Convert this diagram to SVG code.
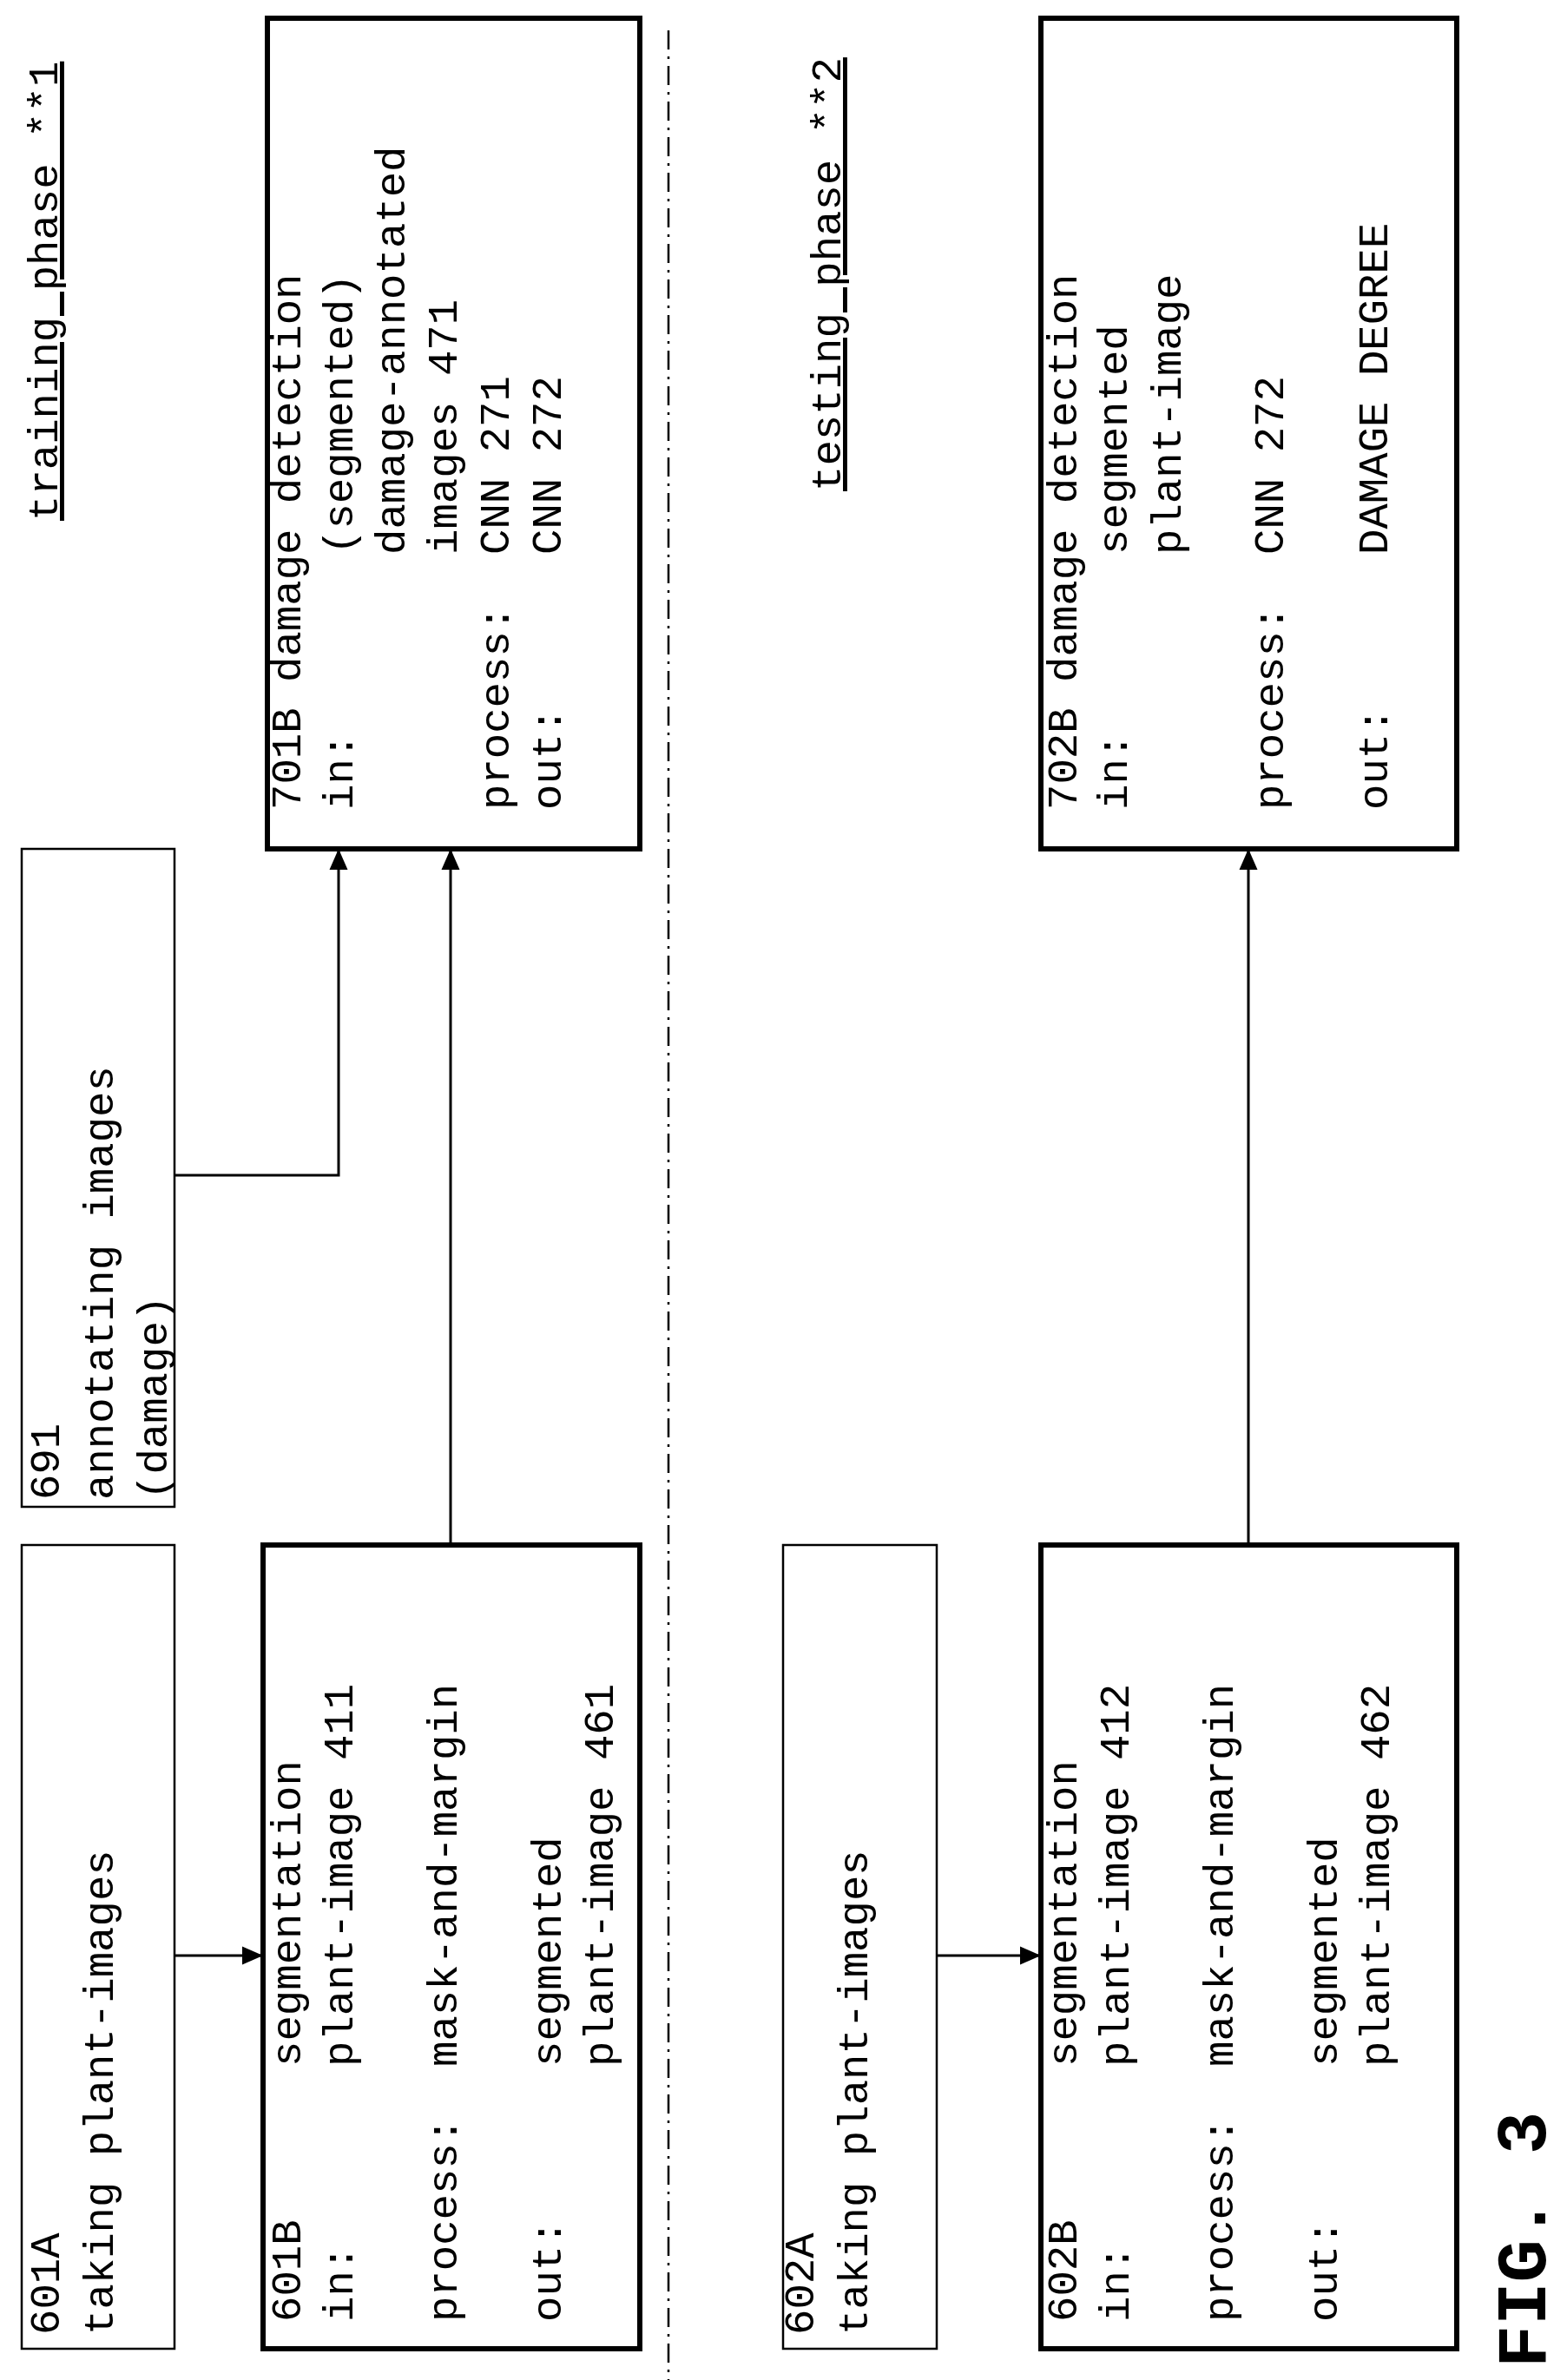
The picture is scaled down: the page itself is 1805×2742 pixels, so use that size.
<svg xmlns="http://www.w3.org/2000/svg" width="1805" height="2742" viewBox="0 0 1805 2742">
<style>
text{font-family:"Liberation Mono","Courier New",monospace;font-size:49px;fill:#000;white-space:pre}
.thin{fill:#fff;stroke:#000;stroke-width:2.5}
.thick{fill:#fff;stroke:#000;stroke-width:6}
.c{fill:none;stroke:#000;stroke-width:3}
.fig{font-weight:bold;font-size:82px}
</style>
<defs><marker id="a" markerWidth="8" markerHeight="8" refX="7" refY="4" orient="auto" markerUnits="strokeWidth"><path d="M0,0.5 L8,4 L0,7.5 z" fill="#000"/></marker></defs>
<rect width="1805" height="2742" fill="#fff"/>
<line x1="770" y1="35" x2="770" y2="2742" stroke="#000" stroke-width="2.5" stroke-dasharray="22,8,3,8"/>
<text transform="translate(66,600) rotate(-90)" text-decoration="underline">training phase **1</text>
<text transform="translate(968,566) rotate(-90)" text-decoration="underline">testing phase **2</text>
<g id="n601A"><rect class="thin" x="25" y="1780" width="176" height="926"/>
<text transform="translate(68,2690) rotate(-90)">601A</text>
<text transform="translate(130,2690) rotate(-90)">taking plant-images</text></g>
<g id="n691"><rect class="thin" x="25" y="978" width="176" height="758"/>
<text transform="translate(68,1728) rotate(-90)">691</text>
<text transform="translate(130,1728) rotate(-90)">annotating images</text>
<text transform="translate(192,1728) rotate(-90)">(damage)</text></g>
<g id="n601B"><rect class="thick" x="303" y="1780" width="434" height="926"/>
<text transform="translate(346,2675) rotate(-90)">601B      segmentation</text>
<text transform="translate(406,2675) rotate(-90)">in:       plant-image 411</text>
<text transform="translate(526,2675) rotate(-90)">process:  mask-and-margin</text>
<text transform="translate(646,2675) rotate(-90)">out:      segmented</text>
<text transform="translate(706,2675) rotate(-90)">          plant-image 461</text></g>
<g id="n701B"><rect class="thick" x="308" y="21" width="429" height="957"/>
<text transform="translate(346,933) rotate(-90)">701B damage detection</text>
<text transform="translate(406,933) rotate(-90)">in:       (segmented)</text>
<text transform="translate(466,933) rotate(-90)">          damage-annotated</text>
<text transform="translate(526,933) rotate(-90)">          images 471</text>
<text transform="translate(586,933) rotate(-90)">process:  CNN 271</text>
<text transform="translate(646,933) rotate(-90)">out:      CNN 272</text></g>
<g id="n602A"><rect class="thin" x="902" y="1780" width="177" height="926"/>
<text transform="translate(937,2690) rotate(-90)">602A</text>
<text transform="translate(999,2690) rotate(-90)">taking plant-images</text></g>
<g id="n602B"><rect class="thick" x="1199" y="1780" width="479" height="926"/>
<text transform="translate(1240,2675) rotate(-90)">602B      segmentation</text>
<text transform="translate(1300,2675) rotate(-90)">in:       plant-image 412</text>
<text transform="translate(1420,2675) rotate(-90)">process:  mask-and-margin</text>
<text transform="translate(1540,2675) rotate(-90)">out:      segmented</text>
<text transform="translate(1600,2675) rotate(-90)">          plant-image 462</text></g>
<g id="n702B"><rect class="thick" x="1199" y="21" width="479" height="957"/>
<text transform="translate(1240,933) rotate(-90)">702B damage detection</text>
<text transform="translate(1298,933) rotate(-90)">in:       segmented</text>
<text transform="translate(1360,933) rotate(-90)">          plant-image</text>
<text transform="translate(1478,933) rotate(-90)">process:  CNN 272</text>
<text transform="translate(1598,933) rotate(-90)">out:      DAMAGE DEGREE</text></g>
<g id="connectors">
<line class="c" x1="201" y1="2253" x2="300" y2="2253" marker-end="url(#a)"/>
<polyline class="c" points="201,1354 390,1354 390,981" marker-end="url(#a)"/>
<line class="c" x1="519" y1="1777" x2="519" y2="981" marker-end="url(#a)"/>
<line class="c" x1="1079" y1="2253" x2="1196" y2="2253" marker-end="url(#a)"/>
<line class="c" x1="1438" y1="1777" x2="1438" y2="981" marker-end="url(#a)"/>
</g>
<text class="fig" transform="translate(1780,2728) rotate(-90)">FIG. 3</text>
</svg>
